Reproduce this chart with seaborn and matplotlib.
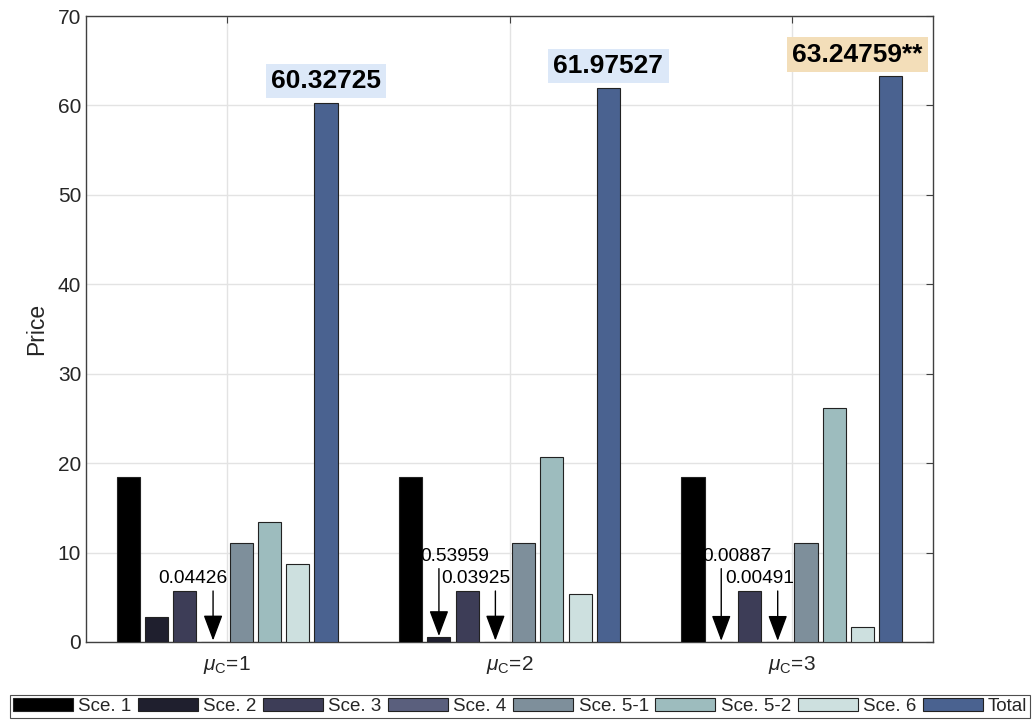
import numpy as np
import pandas as pd
import matplotlib
matplotlib.use("Agg")
import matplotlib.pyplot as plt
import seaborn as sns

# data
groups = ["1", "2", "3"]
scenarios = ["Sce. 1", "Sce. 2", "Sce. 3", "Sce. 4", "Sce. 5-1", "Sce. 5-2", "Sce. 6", "Total"]
sce1 = [18.45, 18.45, 18.45]
sce2 = [2.76, 0.53959, 0.00887]
sce3 = [5.65, 5.65, 5.65]
sce4 = [0.04426, 0.03925, 0.00491]
sce5_1 = [11.08, 11.08, 11.08]
sce5_2 = [13.46, 20.72, 26.15]
sce6 = [8.69, 5.34, 1.73]
total = [60.32725, 61.97527, 63.24759]

colors = ["#000000", "#1f1f2e", "#3d3d57", "#5a5f7d", "#7e8f9b", "#9dbcbe", "#cde0df", "#4a6290"]

series = [sce1, sce2, sce3, sce4, sce5_1, sce5_2, sce6, total]
rows = []
for name, vals in zip(scenarios, series):
    for g, v in zip(groups, vals):
        rows.append({"group": g, "scenario": name, "price": v})
df = pd.DataFrame(rows)

sns.set_theme(style="white")
plt.rcParams["font.family"] = ["Liberation Sans", "DejaVu Sans"]
plt.rcParams["mathtext.fontset"] = "custom"
plt.rcParams["mathtext.rm"] = "Liberation Sans"
plt.rcParams["mathtext.it"] = "Liberation Sans:italic"

fig = plt.figure(figsize=(10.34, 7.21), dpi=100)
ax = fig.add_axes([0.0832, 0.1096, 0.9023 - 0.0832, 0.9778 - 0.1096])

sns.barplot(data=df, x="group", y="price", hue="scenario", hue_order=scenarios,
            palette=colors, saturation=1, width=0.8, gap=0.18, edgecolor="#222222",
            linewidth=0.8, ax=ax, zorder=3)

ax.set_ylim(0, 70)
ax.set_xlim(-0.5, 2.5)
ax.set_yticks(range(0, 71, 10))
ax.set_xticks([0, 1, 2])
ax.set_xticklabels([r"$\mu_{\mathrm{C}}$=" + g for g in groups])
ax.set_xlabel("")
ax.set_ylabel("Price", fontsize=16.5, color="#262626", labelpad=7)
ax.grid(True, color="#e3e3e3", linewidth=1, zorder=0)
ax.set_axisbelow(True)
ax.tick_params(axis="both", direction="in", length=5, width=0.8, color="#404040",
               labelsize=15, labelcolor="#262626", top=True, right=True)
ax.tick_params(axis="x", pad=9)
for s in ax.spines.values():
    s.set_color("#404040")
    s.set_linewidth(1)

# bar centres from seaborn containers
centers = {}
for name, cont in zip(scenarios, ax.containers):
    centers[name] = [p.get_x() + p.get_width() / 2 for p in cont]

arrow = dict(arrowstyle="-|>,head_length=0.8,head_width=0.3", mutation_scale=20,
             color="black", lw=1, shrinkA=0, shrinkB=0)

# small value call-outs: (group index, scenario, values, text height, tail height, text shift)
callouts = [
    (0, "Sce. 4", sce4, 7.1, 5.7, -0.07),
    (1, "Sce. 2", sce2, 9.6, 8.2, 0.055),
    (1, "Sce. 4", sce4, 7.1, 5.7, -0.07),
    (2, "Sce. 2", sce2, 9.6, 8.2, 0.055),
    (2, "Sce. 4", sce4, 7.1, 5.7, -0.065),
]
for gi, name, vals, ty, tail, dx in callouts:
    x = centers[name][gi]
    v = vals[gi]
    ax.annotate("", xy=(x, v + 0.12), xytext=(x, tail), arrowprops=arrow, zorder=5)
    ax.text(x + dx, ty, f"{v:.5f}", ha="center", va="center", fontsize=13.8,
            color="black", zorder=6)

# total labels
total_boxes = ["#dce8f8", "#dce8f8", "#f3deb9"]
total_suffix = ["", "", "**"]
total_shift = [0, 0, -0.117]
for gi in range(3):
    x = centers["Total"][gi] + total_shift[gi]
    ax.annotate(f"{total[gi]:.5f}{total_suffix[gi]}", xy=(x, total[gi]), xytext=(0, 7),
                textcoords="offset points", ha="center", va="bottom", fontsize=19,
                fontweight="bold", color="black", zorder=6,
                bbox=dict(boxstyle="square,pad=0.2", fc=total_boxes[gi], ec="none"))

handles, labels = ax.get_legend_handles_labels()
ax.get_legend().remove()
leg = fig.legend(handles, labels, loc="lower left", ncol=8, mode="expand",
                 bbox_to_anchor=(0.0097, 0.004, 0.9865, 0.036), borderaxespad=0,
                 fontsize=13.5, handlelength=3.2, handleheight=0.7, handletextpad=0.27,
                 columnspacing=0.35, borderpad=0.15, fancybox=False, frameon=True)
leg.get_frame().set_edgecolor("#222222")
leg.get_frame().set_linewidth(0.8)

fig.savefig("out.png", dpi=100)
